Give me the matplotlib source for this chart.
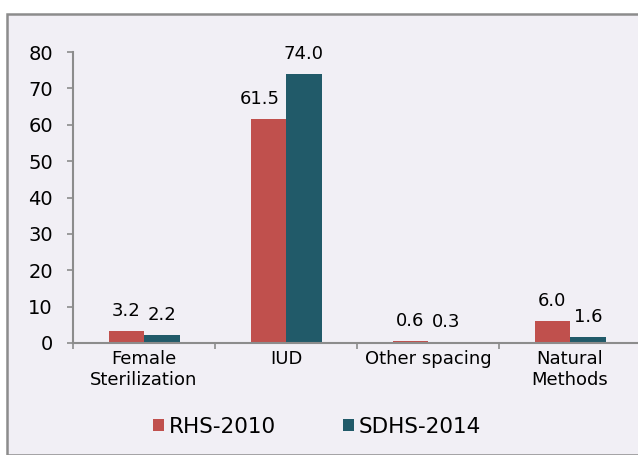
import matplotlib
matplotlib.use("Agg")
import matplotlib.pyplot as plt
from matplotlib.patches import Rectangle
import numpy as np

categories = ["Female\nSterilization", "IUD", "Other spacing", "Natural\nMethods"]
series_names = ["RHS-2010", "SDHS-2014"]
rhs_2010 = [3.2, 61.5, 0.6, 6.0]
sdhs_2014 = [2.2, 74.0, 0.3, 1.6]
colors = ["#C0504D", "#215A69"]
y_ticks = [0, 10, 20, 30, 40, 50, 60, 70, 80]

plt.rcParams['font.family'] = ['DejaVu Sans']

W, H = 638, 455
fig = plt.figure(figsize=(W / 100, H / 100), dpi=100)
fig.patch.set_facecolor("white")
bg = Rectangle((7 / W, 0), 1.0, 1 - 14 / H, transform=fig.transFigure,
               facecolor="#F1EFF5", edgecolor="#8C8C8C", linewidth=1.8, zorder=-10)
fig.patches.append(bg)

ax = fig.add_axes([73 / W, (H - 343) / H, 568 / W, 291 / H])
ax.set_facecolor("none")
ax.set_zorder(1)

x = np.arange(len(categories))
w = 0.25
bars1 = ax.bar(x - w / 2, rhs_2010, w, color=colors[0], label=series_names[0], zorder=2)
bars2 = ax.bar(x + w / 2, sdhs_2014, w, color=colors[1], label=series_names[1], zorder=2)

for bars, vals in ((bars1, rhs_2010), (bars2, sdhs_2014)):
    for b, v in zip(bars, vals):
        dx = -6 if (v == 61.5) else 0
        ax.annotate(f"{v:.1f}", (b.get_x() + b.get_width() / 2, v),
                    xytext=(dx, 11), textcoords="offset points",
                    ha="center", va="baseline", fontsize=13, color="black")

ax.set_xlim(-0.5, 3.5)
ax.set_ylim(0, 80)
ax.set_yticks(y_ticks)
ax.tick_params(axis="y", labelsize=14, length=4.5, width=1.2, color="#8C8C8C", pad=10)
ax.set_xticks(x)
ax.set_xticklabels(categories, fontsize=13)
ax.set_xticks(np.arange(-0.5, 4.0, 1.0), minor=True)
ax.tick_params(axis="x", which="major", length=0, pad=5)
ax.tick_params(axis="x", which="minor", length=4, width=1.2, color="#8C8C8C")

for s in ("top", "right"):
    ax.spines[s].set_visible(False)
for s in ("left", "bottom"):
    ax.spines[s].set_color("#8C8C8C")
    ax.spines[s].set_linewidth(1.5)

leg = fig.legend(handles=[bars1, bars2], labels=series_names, loc="center",
                 bbox_to_anchor=(0.497, 28 / H), ncol=2, frameon=False, fontsize=15.5,
                 handlelength=0.5, handleheight=0.5, handletextpad=0.25,
                 columnspacing=3.1)

fig.savefig("out.png", dpi=100)
